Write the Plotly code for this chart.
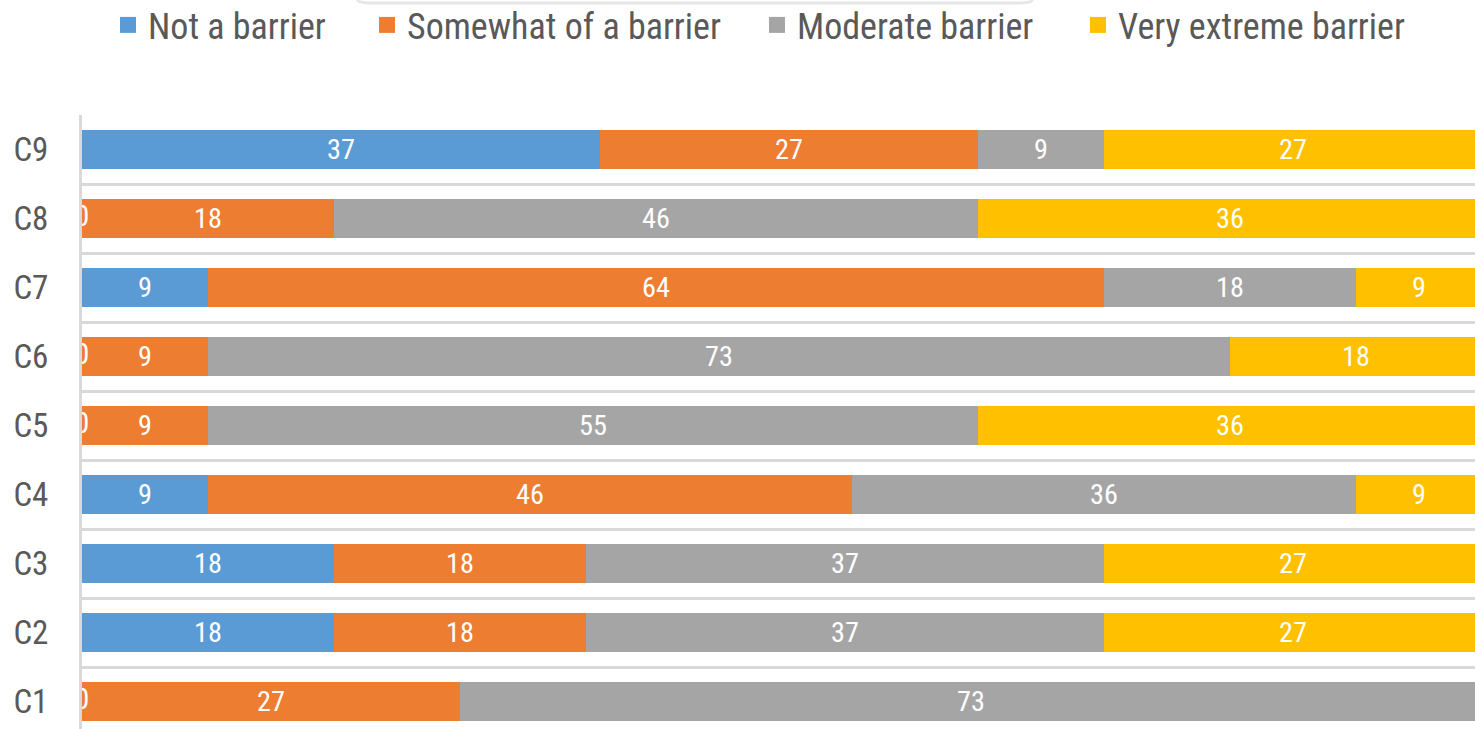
import plotly.graph_objects as go

categories = ["C1", "C2", "C3", "C4", "C5", "C6", "C7", "C8", "C9"]
series_names = ["Not a barrier", "Somewhat of a barrier", "Moderate barrier", "Very extreme barrier"]
not_a_barrier = [0, 18, 18, 9, 0, 0, 9, 0, 37]
somewhat = [27, 18, 18, 46, 9, 9, 64, 18, 27]
moderate = [73, 37, 37, 36, 55, 73, 18, 46, 9]
very_extreme = [0, 27, 27, 9, 36, 18, 9, 36, 27]
colors = ["#5B9BD5", "#ED7D31", "#A5A5A5", "#FFC000"]

FONT = "Roboto Condensed, Roboto, Liberation Sans, sans-serif"
W, H = 1475, 729
ML, MT = 82, 115
PW, PH = W - ML, H - MT
PITCH = 69.0  # pixels per category

series = [not_a_barrier, somewhat, moderate, very_extreme]
ypos = list(range(len(categories)))
y_top = len(categories) - 0.5
y_bottom = y_top - PH / PITCH


def px_x(p):
    return (p - ML) / PW


def px_y(p):
    return 1 + (MT - p) / PH


fig = go.Figure()
for name, vals, col in zip(series_names, series, colors):
    fig.add_trace(go.Bar(
        y=ypos, x=vals, name=name, orientation="h",
        marker=dict(color=col, line=dict(width=0)),
        width=0.565,
        text=[str(v) if v else "" for v in vals],
        textposition="inside", insidetextanchor="middle", textangle=0,
        textfont=dict(color="white", size=30, family=FONT),
        showlegend=False, hoverinfo="skip",
    ))

# legend entries, each in its own legend box (larger square symbols)
legend_ids = ["legend", "legend2", "legend3", "legend4"]
legend_text_x = [148, 407, 797, 1118]
for name, col, lid in zip(series_names, colors, legend_ids):
    fig.add_trace(go.Scatter(
        x=[None], y=[None], mode="markers", name=name, legend=lid,
        marker=dict(symbol="square", size=16, color=col),
    ))

# zero-value labels (drawn at segment start, clipped by plot area)
zx, zy = [], []
for j in range(len(categories)):
    cum = 0
    for vals in series:
        v = vals[j]
        if v == 0:
            zx.append(cum)
            zy.append(j)
        cum += v
fig.add_trace(go.Scatter(
    x=zx, y=zy, mode="text", text=["0"] * len(zx),
    textfont=dict(color="white", size=30, family=FONT),
    showlegend=False, hoverinfo="skip", cliponaxis=True,
))

# faint rounded box edge at top (partially visible title box)
x0, x1, yb, yt, r = px_x(358), px_x(1032), px_y(3), px_y(-20), 0.012
fig.add_shape(type="path", xref="paper", yref="paper",
              path=f"M {x0},{yt} L {x0},{yb + 0.004} Q {x0},{yb} {x0 + r},{yb} "
                   f"L {x1 - r},{yb} Q {x1},{yb} {x1},{yb + 0.004} L {x1},{yt}",
              line=dict(color="#e6e6e6", width=3))

legend_common = dict(orientation="h", xanchor="left", y=px_y(25), yanchor="middle",
                     font=dict(size=36, color="#595959", family=FONT),
                     itemclick=False, itemdoubleclick=False, bgcolor="rgba(0,0,0,0)")
legends = {}
for lid, tx in zip(legend_ids, legend_text_x):
    legends[lid] = dict(legend_common, x=px_x(tx - 40))

fig.update_layout(
    width=W, height=H,
    margin=dict(l=ML, r=0, t=MT, b=0, autoexpand=False),
    paper_bgcolor="white", plot_bgcolor="white",
    barmode="stack", bargap=0.43,
    font=dict(family=FONT, color="#595959"),
    xaxis=dict(range=[0, 99.5], showgrid=False, zeroline=False,
               showticklabels=False, ticks="", showline=False, fixedrange=True),
    yaxis=dict(range=[y_bottom, y_top], tickvals=ypos, ticktext=categories,
               showgrid=False, zeroline=False, ticks="",
               showline=True, linecolor="#d9d9d9", linewidth=3,
               ticklabelstandoff=24,
               tickfont=dict(size=33, color="#595959", family=FONT),
               minor=dict(tickvals=[i - 0.5 for i in range(len(categories) + 1)],
                          showgrid=True, gridcolor="#d9d9d9", gridwidth=3, ticks=""),
               fixedrange=True),
    **legends,
)

fig.write_html("out.html", config={"displayModeBar": False},
               post_script="document.body.style.margin='0px';")
